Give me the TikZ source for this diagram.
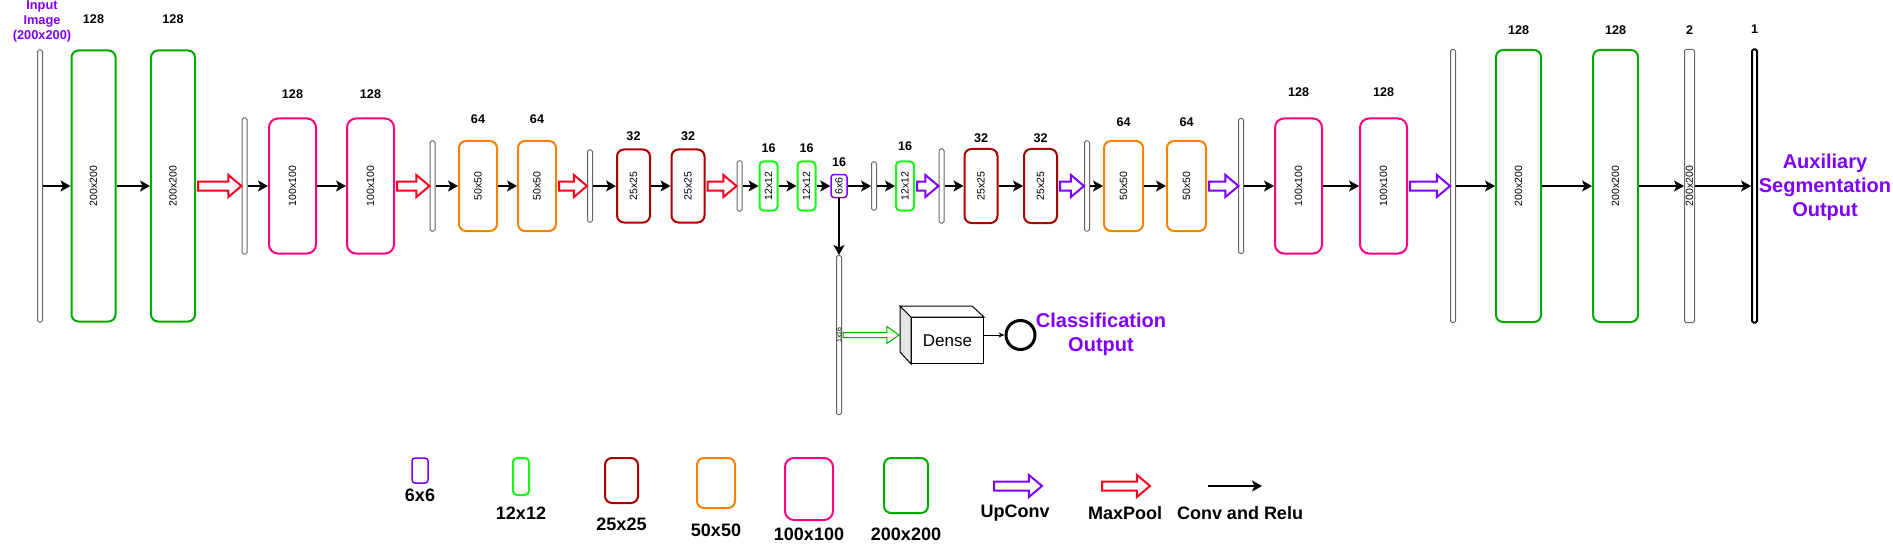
\documentclass[tikz,border=0pt]{standalone}
\usepackage{fontspec}
\setmainfont{Liberation Sans}
\usepackage{graphicx}
\usepackage{tikz}
\usetikzlibrary{arrows.meta, positioning, calc, shapes.arrows}

\definecolor{c200}{RGB}{0,170,0}
\definecolor{c100}{RGB}{255,0,128}
\definecolor{c50}{RGB}{255,128,0}
\definecolor{c25}{RGB}{170,0,0}
\definecolor{c12}{RGB}{20,250,20}
\definecolor{c6}{RGB}{127,0,255}
\definecolor{cpool}{RGB}{255,0,32}

\begin{document}
\begin{tikzpicture}[
    x=1pt, y=-1pt,
    bx/.style={draw, fill=white, line width=2pt, rounded corners=7pt, inner sep=0pt, font=\fontsize{10.5}{12}\selectfont},
    s200/.style={bx, draw=c200, minimum width=44pt, minimum height=271pt},
    s100/.style={bx, draw=c100, minimum width=47pt, minimum height=135pt, rounded corners=9pt},
    s50/.style={bx, draw=c50, minimum width=38pt, minimum height=90pt},
    s25/.style={bx, draw=c25, minimum width=33pt, minimum height=73pt},
    s12/.style={bx, draw=c12, minimum width=18pt, minimum height=49pt, rounded corners=4pt},
    s6/.style={bx, draw=c6, minimum width=16pt, minimum height=23pt, rounded corners=3pt, line width=1.5pt},
    bar/.style={draw=black!60, fill=white, line width=1pt, rounded corners=1.5pt, minimum width=5pt, inner sep=0pt, font=\fontsize{10.5}{12}\selectfont},
    num/.style={font=\bfseries\fontsize{12.6}{14}\selectfont, inner sep=0pt},
    key/.style={font=\bfseries\fontsize{18}{20}\selectfont, inner sep=0pt},
    outtxt/.style={font=\bfseries\fontsize{20}{24}\selectfont, text=c6, align=center, inner sep=0pt},
    arr/.style={-{Stealth[length=10pt, width=11pt, inset=2.5pt]}, line width=1.6pt},
    thinarr/.style={-{Stealth[length=6pt, width=5pt]}, line width=0.8pt},
    pool/.style={single arrow, draw=cpool, fill=white, line width=2pt, inner xsep=0pt, inner ysep=3.5pt, single arrow head extend=6.5pt, single arrow tip angle=80, anchor=tail},
    upconv/.style={pool, draw=c6},
    flat/.style={pool, draw=c200, line width=1pt, inner ysep=2pt, single arrow head extend=6pt, single arrow tip angle=70},
]
\useasboundingbox (0,0) rectangle (1893,559);

% encoder
\node[bar, minimum height=272pt] (in) at (40,186) {};
\node[s200] (e1) at (93.5,186) {\rotatebox{90}{200x200}};
\node[s200] (e2) at (173,186) {\rotatebox{90}{200x200}};
\node[bar, minimum height=136pt] (b2) at (244.5,186) {};
\node[s100] (e3) at (292.5,186) {\rotatebox{90}{100x100}};
\node[s100] (e4) at (370.5,186) {\rotatebox{90}{100x100}};
\node[bar, minimum height=90pt] (b3) at (432.5,186) {};
\node[s50] (e5) at (478,186) {\rotatebox{90}{50x50}};
\node[s50] (e6) at (537,186) {\rotatebox{90}{50x50}};
\node[bar, minimum height=72pt] (b4) at (590,186) {};
\node[s25] (e7) at (633.5,186) {\rotatebox{90}{25x25}};
\node[s25] (e8) at (688,186) {\rotatebox{90}{25x25}};
\node[bar, minimum height=50pt] (b5) at (739.5,186) {};
\node[s12] (e9) at (768.5,186) {\rotatebox{90}{12x12}};
\node[s12] (e10) at (806.5,186) {\rotatebox{90}{12x12}};
\node[s6] (mid) at (839,186) {\rotatebox{90}{6x6}};

% decoder
\node[bar, minimum height=48pt] (b6) at (874,186) {};
\node[s12] (d1) at (905,186) {\rotatebox{90}{12x12}};
\node[bar, minimum height=74pt] (b7) at (941.5,186) {};
\node[s25, minimum height=74pt] (d2) at (981,186) {\rotatebox{90}{25x25}};
\node[s25, minimum height=74pt] (d3) at (1040.5,186) {\rotatebox{90}{25x25}};
\node[bar, minimum height=90pt] (b8) at (1087,186) {};
\node[s50, minimum width=39pt] (d4) at (1123.5,186) {\rotatebox{90}{50x50}};
\node[s50, minimum width=39pt] (d5) at (1186.5,186) {\rotatebox{90}{50x50}};
\node[bar, minimum height=135pt] (b9) at (1241,186) {};
\node[s100] (d6) at (1298.5,186) {\rotatebox{90}{100x100}};
\node[s100] (d7) at (1383.5,186) {\rotatebox{90}{100x100}};
\node[bar, minimum height=273pt] (b10) at (1453,186) {};
\node[s200, minimum width=45pt, minimum height=272pt] (d8) at (1518.5,186) {\rotatebox{90}{200x200}};
\node[s200, minimum width=45pt, minimum height=272pt] (d9) at (1615.5,186) {\rotatebox{90}{200x200}};
\node[bar, minimum width=10pt, minimum height=273pt] (b11) at (1689.5,186) {\rotatebox{90}{200x200}};
\node[bar, draw=black, line width=2pt, minimum height=273pt] (out) at (1754.5,186) {};

% channel counts
\node[num] (n1) at ($(e1.north)+(0,-30)$) {128};
\node[num] (n2) at ($(e2.north)+(0,-30)$) {128};
\node[num] (n3) at ($(e3.north)+(0,-23)$) {128};
\node[num] (n4) at ($(e4.north)+(0,-23)$) {128};
\node[num] (n5) at ($(e5.north)+(0,-20.5)$) {64};
\node[num] (n6) at ($(e6.north)+(0,-20.5)$) {64};
\node[num] (n7) at ($(e7.north)+(0,-12)$) {32};
\node[num] (n8) at ($(e8.north)+(0,-12)$) {32};
\node[num] (n9) at ($(e9.north)+(0,-12.5)$) {16};
\node[num] (n10) at ($(e10.north)+(0,-12.5)$) {16};
\node[num] (n11) at ($(mid.north)+(0,-11.5)$) {16};
\node[num] (n12) at ($(d1.north)+(0,-14)$) {16};
\node[num] (n13) at ($(d2.north)+(0,-10)$) {32};
\node[num] (n14) at ($(d3.north)+(0,-10)$) {32};
\node[num] (n15) at ($(d4.north)+(0,-17.5)$) {64};
\node[num] (n16) at ($(d5.north)+(0,-17.5)$) {64};
\node[num] (n17) at ($(d6.north)+(0,-25)$) {128};
\node[num] (n18) at ($(d7.north)+(0,-25)$) {128};
\node[num] (n19) at ($(d8.north)+(0,-19)$) {128};
\node[num] (n20) at ($(d9.north)+(0,-19)$) {128};
\node[num] (n21) at ($(b11.north)+(0,-19)$) {2};
\node[num] (n22) at ($(out.north)+(0,-19)$) {1};

\node[outtxt, font=\bfseries\fontsize{12.8}{15}\selectfont] (intxt) at (42,21.5) {Input\\Image\\(200x200)};
\node[outtxt] (segtxt) at (1825,187) {Auxiliary\\Segmentation\\Output};

% conv + relu
\draw[arr] (in) -- (e1);
\draw[arr] (e1) -- (e2);
\draw[arr] (b2) -- (e3);
\draw[arr] (e3) -- (e4);
\draw[arr] (b3) -- (e5);
\draw[arr] (e5) -- (e6);
\draw[arr] (b4) -- (e7);
\draw[arr] (e7) -- (e8);
\draw[arr] (b5) -- (e9);
\draw[arr] (e9) -- (e10);
\draw[arr] (e10) -- (mid);
\draw[arr] (mid) -- (b6);
\draw[arr] (b6) -- (d1);
\draw[arr] (b7) -- (d2);
\draw[arr] (d2) -- (d3);
\draw[arr] (b8) -- (d4);
\draw[arr] (d4) -- (d5);
\draw[arr] (b9) -- (d6);
\draw[arr] (d6) -- (d7);
\draw[arr] (b10) -- (d8);
\draw[arr] (d8) -- (d9);
\draw[arr] (d9) -- (b11);
\draw[arr] (b11) -- (out);

% maxpool / upconv
\node[pool, minimum height=43.5pt] (p1) at ($(e2.east)+(1,0)$) {};
\node[pool, minimum height=32.5pt] (p2) at ($(e4.east)+(1,0)$) {};
\node[pool, minimum height=28pt] (p3) at ($(e6.east)+(1,0)$) {};
\node[pool, minimum height=29pt] (p4) at ($(e8.east)+(1,0)$) {};
\node[upconv, minimum height=21.5pt] (u1) at ($(d1.east)+(1,0)$) {};
\node[upconv, minimum height=24pt] (u2) at ($(d3.east)+(1,0)$) {};
\node[upconv, minimum height=29.5pt] (u3) at ($(d5.east)+(1,0)$) {};
\node[upconv, minimum height=40pt] (u4) at ($(d7.east)+(1,0)$) {};

% classification branch
\node[bar, minimum height=159pt, font=\fontsize{7}{8}\selectfont] (fc) at (839,335) {\rotatebox{90}{1x16}};
\draw[arr] (mid) -- (fc);
\node[draw, fill=white, line width=1pt, minimum width=72pt, minimum height=46pt, inner sep=0pt, font=\fontsize{17}{20}\selectfont] (dense) at (947.5,340.5) {Dense};
\draw[line width=1pt, fill=black!10] (dense.north west) -- ++(-11,-11) -- ++(0,46) -- (dense.south west) -- cycle;
\draw[line width=1pt, fill=white] (dense.north west) -- ++(-11,-11) -- ++(72,0) -- (dense.north east) -- cycle;
\node[flat, minimum height=56pt] (gate) at ($(fc.east)+(0.5,0)$) {};
\node[draw, circle, line width=3pt, minimum size=29pt, inner sep=0pt] (cls) at (1020.5,335) {};
\draw[thinarr] (dense.east |- cls.west) -- (cls);
\node[outtxt] (clstxt) at (1101,334) {Classification\\Output};

% legend
\node[s6, minimum height=25pt] (k6) at (420,470.5) {};
\node[s12, minimum width=16pt, minimum height=37pt] (k12) at (521,476.5) {};
\node[s25, minimum height=45pt] (k25) at (621.5,480.5) {};
\node[s50, minimum height=50pt] (k50) at (716,483) {};
\node[s100, minimum width=48pt, minimum height=62pt] (k100) at (809,489) {};
\node[s200, minimum height=55pt] (k200) at (906,485.5) {};
\node[key] (l6) at ($(k6.south)+(0,12)$) {6x6};
\node[key] (l12) at ($(k12.south)+(0,17)$) {12x12};
\node[key] (l25) at ($(k25.south)+(0,20)$) {25x25};
\node[key] (l50) at ($(k50.south)+(0,21)$) {50x50};
\node[key] (l100) at ($(k100.south)+(0,13)$) {100x100};
\node[key] (l200) at ($(k200.south)+(0,20)$) {200x200};

\node[upconv, minimum height=48pt] (kup) at (993,486) {};
\node[pool, minimum height=48pt] (kpool) at (1101,486) {};
\coordinate (kc1) at (1208,486);
\coordinate (kc2) at (1262,486);
\draw[arr] (kc1) -- (kc2);
\node[key] (lup) at (1015,513) {UpConv};
\node[key] (lpool) at (1125,513) {MaxPool};
\node[key] (lconv) at (1240,513) {Conv and Relu};

\end{tikzpicture}
\end{document}
